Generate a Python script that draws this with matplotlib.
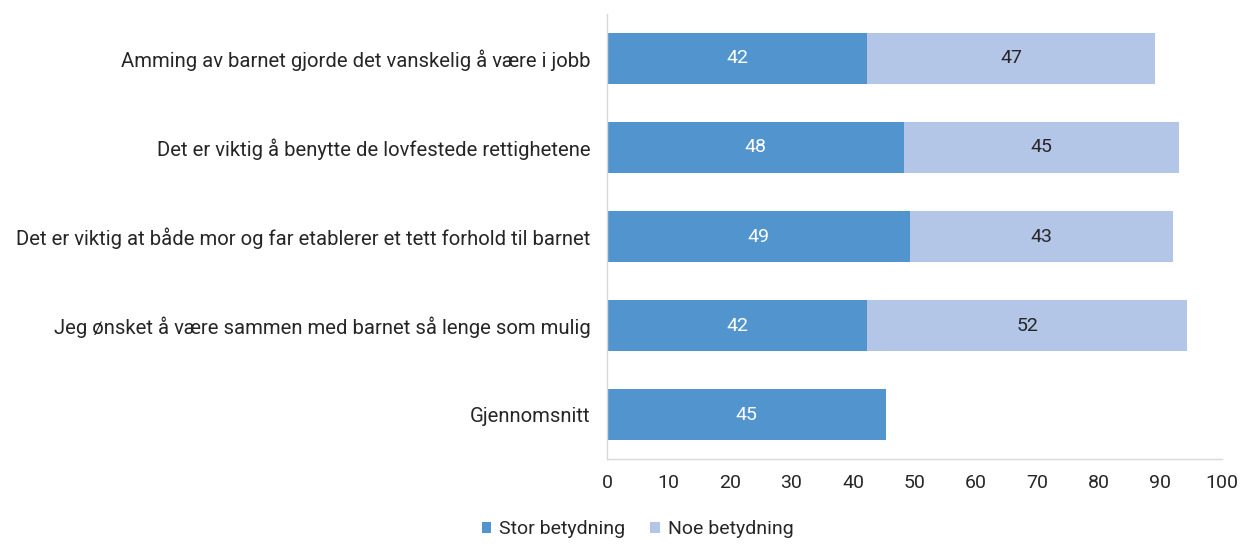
import numpy as np
import matplotlib.pyplot as plt

plt.rcParams['font.family'] = ['Roboto', 'DejaVu Sans']

categories = [
    'Amming av barnet gjorde det vanskelig å være i jobb',
    'Det er viktig å benytte de lovfestede rettighetene',
    'Det er viktig at både mor og far etablerer et tett forhold til barnet',
    'Jeg ønsket å være sammen med barnet så lenge som mulig',
    'Gjennomsnitt',
]
stor = [42.3, 48.3, 49.3, 42.3, 45.4]
noe = [46.8, 44.7, 42.7, 52.0, 0.0]
series_names = ['Stor betydning', 'Noe betydning']
xticks = [0, 10, 20, 30, 40, 50, 60, 70, 80, 90, 100]

dark = '#5294CE'
light = '#B4C6E7'
text_col = '#262626'

fig = plt.figure(figsize=(12.43, 5.44), dpi=100)
ax = fig.add_axes([0.4883, 0.1562, 0.4948, 0.8181])

y = np.arange(len(categories))
b1 = ax.barh(y, stor, height=0.57, color=dark, label=series_names[0])
b2 = ax.barh(y, noe, left=stor, height=0.57, color=light, label=series_names[1])

for i in range(len(categories)):
    ax.text(stor[i] / 2, y[i], f'{stor[i]:.0f}', ha='center', va='center',
            color='white', fontsize=14)
    if noe[i] > 0:
        ax.text(stor[i] + noe[i] / 2, y[i], f'{noe[i]:.0f}', ha='center',
                va='center', color=text_col, fontsize=14)

ax.set_ylim(len(categories) - 0.5, -0.5)
ax.set_xlim(0, 100)
ax.set_xticks(xticks)
ax.set_xticklabels([str(t) for t in xticks], fontsize=14, color=text_col)
ax.set_yticks(y)
ax.set_yticklabels(categories, fontsize=14.6, color=text_col)
ax.tick_params(axis='both', length=0)
ax.tick_params(axis='x', pad=11)
ax.tick_params(axis='y', pad=12)

for s in ['top', 'right']:
    ax.spines[s].set_visible(False)
for s in ['left', 'bottom']:
    ax.spines[s].set_color('#D9D9D9')
    ax.spines[s].set_linewidth(1)

fig.legend(handles=[b1, b2], loc='lower center', bbox_to_anchor=(0.513, -0.022),
           ncol=2, frameon=False, fontsize=14, handlelength=0.5,
           handleheight=0.5, handletextpad=0.4, columnspacing=1.3,
           labelcolor=text_col)

fig.savefig('out.png', dpi=100)
